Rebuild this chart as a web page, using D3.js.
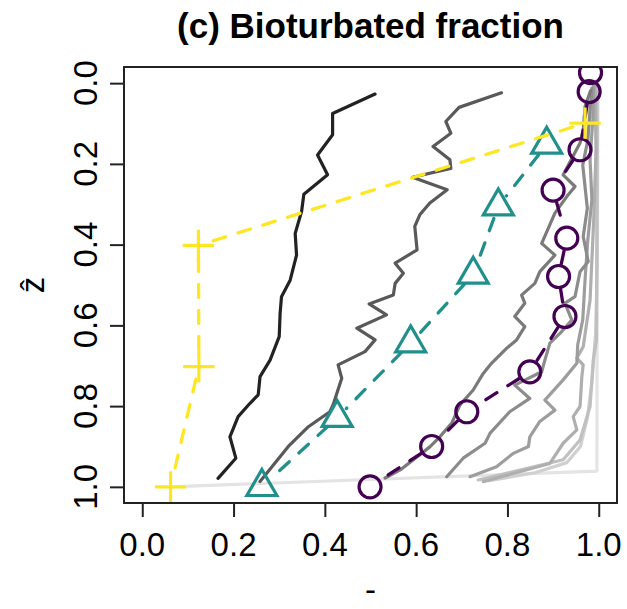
<!DOCTYPE html>
<html>
<head>
<meta charset="utf-8">
<title>(c) Bioturbated fraction</title>
<script src="https://d3js.org/d3.v7.min.js"></script>
<style>
  body { margin: 0; background: #fff; }
  text { font-family: "Liberation Sans", Arial, Helvetica, sans-serif; fill: #000; }
</style>
</head>
<body>
<div id="chart"></div>
<script>
// model profiles, dark (early) -> light (late); each point is [fraction, depth]
var profile1 = [[0.510,0.027],[0.417,0.075],[0.417,0.128],[0.384,0.178],[0.406,0.227],[0.354,0.275],
  [0.349,0.318],[0.335,0.372],[0.338,0.426],[0.324,0.488],[0.305,0.529],[0.302,0.570],[0.300,0.628],
  [0.280,0.686],[0.258,0.727],[0.254,0.772],[0.236,0.793],[0.210,0.826],[0.192,0.876],[0.205,0.929],
  [0.166,0.979]];
var profile2 = [[0.787,0.024],[0.694,0.060],[0.665,0.095],[0.676,0.124],[0.637,0.157],[0.674,0.190],
  [0.676,0.211],[0.592,0.233],[0.668,0.264],[0.630,0.297],[0.608,0.326],[0.597,0.355],[0.602,0.413],
  [0.554,0.446],[0.572,0.471],[0.554,0.496],[0.550,0.525],[0.497,0.547],[0.535,0.574],[0.470,0.607],
  [0.510,0.636],[0.488,0.665],[0.429,0.698],[0.437,0.731],[0.418,0.797],[0.411,0.814],[0.364,0.851],
  [0.320,0.900],[0.258,0.987]];
var profile3 = [[0.982,0.019],[0.970,0.058],[0.966,0.116],[0.959,0.148],[0.922,0.227],[0.948,0.256],
  [0.930,0.281],[0.904,0.322],[0.875,0.397],[0.904,0.426],[0.871,0.467],[0.860,0.496],[0.831,0.525],
  [0.838,0.545],[0.816,0.578],[0.838,0.603],[0.820,0.636],[0.798,0.657],[0.765,0.694],[0.747,0.719],
  [0.725,0.760],[0.696,0.797],[0.678,0.842],[0.652,0.876],[0.630,0.901],[0.565,0.958],[0.532,0.978]];
var profile4 = [[0.985,0.012],[0.981,0.066],[0.976,0.141],[0.965,0.203],[0.975,0.310],[0.966,0.380],
  [0.977,0.442],[0.959,0.467],[0.948,0.529],[0.926,0.545],[0.941,0.587],[0.915,0.620],[0.893,0.644],
  [0.882,0.686],[0.875,0.715],[0.816,0.748],[0.849,0.781],[0.805,0.814],[0.762,0.867],[0.751,0.892],
  [0.703,0.929],[0.667,0.975]];
var profile5 = [[0.989,0.005],[0.987,0.091],[0.981,0.190],[0.985,0.289],[0.976,0.389],[0.970,0.487],
  [0.965,0.586],[0.954,0.648],[0.952,0.694],[0.922,0.735],[0.882,0.785],[0.904,0.810],[0.871,0.838],
  [0.849,0.876],[0.846,0.900],[0.813,0.917],[0.776,0.950],[0.718,0.975]];
var profile6 = [[0.992,0.005],[0.994,0.165],[0.989,0.339],[0.981,0.537],[0.966,0.653],[0.952,0.681],
  [0.966,0.698],[0.963,0.727],[0.959,0.801],[0.944,0.826],[0.952,0.859],[0.922,0.892],[0.893,0.942],
  [0.747,0.987]];
var profile7 = [[0.996,0.005],[0.996,0.289],[0.995,0.636],[0.988,0.686],[0.981,0.801],[0.959,0.884],
  [0.922,0.933],[0.736,0.983]];
var profile8 = [[0.998,0.005],[0.997,0.450],[0.993,0.620],[0.985,0.740],[0.975,0.830],[0.960,0.900],
  [0.930,0.940],[0.860,0.965],[0.760,0.985]];
var profile9 = [[0.997,0.000],[0.996,0.961],[0.061,1.000]];

var profiles = [profile1, profile2, profile3, profile4, profile5, profile6, profile7, profile8, profile9];
var shades = ["#222222", "#595959", "#7a7a7a", "#8c8c8c", "#9d9d9d", "#afafaf", "#c0c0c0", "#d0d0d0", "#e4e4e4"];

// observed profiles
var purpleX = [0.982, 0.979, 0.959, 0.900, 0.930, 0.912, 0.926, 0.849, 0.711, 0.634, 0.499];
var purpleZ = [-0.026, 0.021, 0.165, 0.265, 0.384, 0.479, 0.578, 0.715, 0.814, 0.900, 1.000];
var tealX = [0.886, 0.780, 0.725, 0.588, 0.427, 0.262];
var tealZ = [0.152, 0.305, 0.474, 0.644, 0.829, 1.000];
var yellowX = [0.970, 0.123, 0.124, 0.062];
var yellowZ = [0.099, 0.402, 0.702, 1.000];

var xTicks = [0, 0.2, 0.4, 0.6, 0.8, 1.0];
var yTicks = [0, 0.2, 0.4, 0.6, 0.8, 1.0];

var W = 627, H = 609;
var pLeft = 124, pRight = 617, pTop = 67, pBottom = 503;

var svg = d3.select("#chart").append("svg").attr("width", W).attr("height", H);

var x = d3.scaleLinear().domain([-0.04, 1.04]).range([pLeft, pRight]);
var y = d3.scaleLinear().domain([-0.04, 1.04]).range([pTop, pBottom]);
var fmt = d3.format(".1f");

svg.append("clipPath").attr("id", "plotclip")
   .append("rect").attr("x", pLeft).attr("y", pTop)
   .attr("width", pRight - pLeft).attr("height", pBottom - pTop);

var plot = svg.append("g").attr("clip-path", "url(#plotclip)");

var line = d3.line().x(function(d) { return x(d[0]); }).y(function(d) { return y(d[1]); });

// draw lightest first so the darker ones sit on top
profiles.slice().reverse().forEach(function(p, i) {
    plot.append("path")
        .attr("d", line(p))
        .attr("fill", "none")
        .attr("stroke", shades[profiles.length - 1 - i])
        .attr("stroke-width", 3.2)
        .attr("stroke-linejoin", "round")
        .attr("stroke-linecap", "round");
});

// type="b" style: dashed segments that stop short of each point
function gapped(xs, zs, gap) {
    var segs = [];
    for (var i = 0; i < xs.length - 1; i++) {
        var x0 = x(xs[i]), y0 = y(zs[i]), x1 = x(xs[i + 1]), y1 = y(zs[i + 1]);
        var d = Math.hypot(x1 - x0, y1 - y0);
        if (d <= 2 * gap) continue;
        var ux = (x1 - x0) / d, uy = (y1 - y0) / d;
        segs.push([x0 + ux * gap, y0 + uy * gap, x1 - ux * gap, y1 - uy * gap]);
    }
    return segs;
}

var series = [
    {xs: purpleX, zs: purpleZ, col: "#440154", shape: "circle"},
    {xs: tealX, zs: tealZ, col: "#21908C", shape: "triangle"},
    {xs: yellowX, zs: yellowZ, col: "#FDE725", shape: "plus"}
];

var shapes = {
    circle: "M11,0A11,11 0 1,1 -11,0A11,11 0 1,1 11,0Z",
    triangle: "M0,-17.3L15,8.65L-15,8.65Z",
    plus: "M-15.7,0H15.7M0,-15.7V15.7"
};

series.forEach(function(s) {
    plot.selectAll(null)
        .data(gapped(s.xs, s.zs, 13))
        .enter().append("line")
        .attr("x1", function(d) { return d[0]; })
        .attr("y1", function(d) { return d[1]; })
        .attr("x2", function(d) { return d[2]; })
        .attr("y2", function(d) { return d[3]; })
        .attr("stroke", s.col)
        .attr("stroke-width", 3.3)
        .attr("stroke-linecap", "round")
        .attr("stroke-dasharray", "13,13");

    plot.selectAll(null)
        .data(d3.range(s.xs.length))
        .enter().append("path")
        .attr("transform", function(i) { return "translate(" + x(s.xs[i]) + "," + y(s.zs[i]) + ")"; })
        .attr("d", shapes[s.shape])
        .attr("fill", "none")
        .attr("stroke", s.col)
        .attr("stroke-width", 3.2);
});

// box
svg.append("rect")
   .attr("x", pLeft).attr("y", pTop)
   .attr("width", pRight - pLeft).attr("height", pBottom - pTop)
   .attr("fill", "none").attr("stroke", "#222").attr("stroke-width", 2);

// axes
var xAxis = svg.append("g")
   .attr("transform", "translate(0," + pBottom + ")")
   .call(d3.axisBottom(x).tickValues(xTicks).tickSize(14).tickSizeOuter(0).tickFormat(""));
var yAxis = svg.append("g")
   .attr("transform", "translate(" + pLeft + ",0)")
   .call(d3.axisLeft(y).tickValues(yTicks).tickSize(14).tickSizeOuter(0).tickFormat(""));
[xAxis, yAxis].forEach(function(g) {
    g.select(".domain").remove();
    g.selectAll(".tick line").attr("stroke", "#222").attr("stroke-width", 2);
});

svg.selectAll(".xlab")
   .data(xTicks)
   .enter().append("text")
   .attr("class", "xlab")
   .attr("x", function(d) { return x(d); })
   .attr("y", 556)
   .attr("text-anchor", "middle")
   .style("font-size", "33px")
   .text(fmt);

svg.selectAll(".ylab")
   .data(yTicks)
   .enter().append("text")
   .attr("class", "ylab")
   .attr("transform", function(d) { return "translate(97," + y(d) + ") rotate(-90)"; })
   .attr("text-anchor", "middle")
   .style("font-size", "33px")
   .text(fmt);

// titles
svg.append("text")
   .attr("x", (pLeft + pRight) / 2).attr("y", 38)
   .attr("text-anchor", "middle")
   .style("font-size", "35px").style("font-weight", "bold")
   .text("(c) Bioturbated fraction");

svg.append("text")
   .attr("x", (pLeft + pRight) / 2).attr("y", 601)
   .attr("text-anchor", "middle")
   .style("font-size", "33px")
   .text("-");

svg.append("text")
   .attr("transform", "translate(44," + (pTop + pBottom) / 2 + ") rotate(-90)")
   .attr("text-anchor", "middle")
   .style("font-size", "33px")
   .text("ẑ");
</script>
</body>
</html>
